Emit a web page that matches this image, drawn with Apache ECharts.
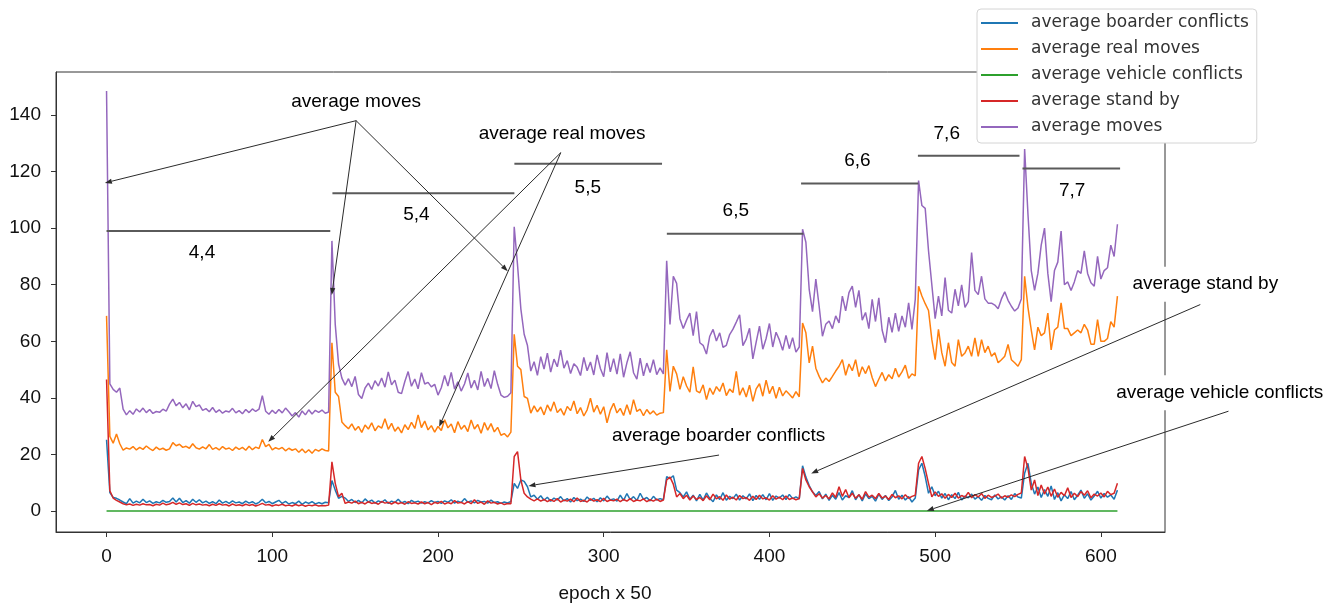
<!DOCTYPE html>
<html>
<head>
<meta charset="utf-8">
<title>average moves per epoch</title>
<script src="https://cdn.jsdelivr.net/npm/echarts@6/dist/echarts.min.js"></script>
<style>
  html, body { margin: 0; padding: 0; background: #fff; }
  #main { width: 1336px; height: 606px; }
</style>
</head>
<body>
<div id="main"></div>
<script>
// one value every 2 epochs, x = 0 .. 610
const step = 2;

const boarderConflicts = [
  // 4,4
  25.2,6.5,4.8,4.5,3.9,3.2,2.6,4.4,2.8,3.5, 2.9,4.2,3.0,3.6,2.7,3.3,2.9,3.8,3.1,3.4,
  4.6,3.2,4.5,3.0,3.7,2.8,4.2,3.1,4.0,2.9, 3.5,2.7,3.3,2.6,3.9,2.8,3.4,2.7,3.6,2.9,
  3.2,2.6,3.5,2.8,3.3,2.5,3.1,4.2,2.9,3.4, 2.6,3.2,3.8,2.7,3.4,2.5,3.0,2.6,3.5,2.4,
  3.2,2.7,3.3,2.5,3.0,2.6,3.1,2.9,
  // 5,4
  10.8,7.4,4.5,5.2,4.6,3.4,4.1,3.0,3.8,2.9, 4.3,3.2,3.9,2.8,3.6,3.1,4.0,2.7,3.5,3.0,
  4.2,2.9,3.4,2.6,3.8,3.1,3.5,2.8,3.3,2.9, 3.7,3.0,3.4,2.7,3.6,3.1,4.0,2.8,3.5,3.0,
  4.4,3.1,3.6,2.9,3.8,3.2,3.4,2.8,3.9,3.0, 3.3,2.7,3.2,2.9,3.4,
  // 5,5
  9.8,8.0,11.0,10.5,8.6,5.0,5.6,4.2,5.4,3.8, 4.9,3.5,4.6,3.9,5.1,3.6,4.4,3.2,4.8,3.7,
  4.2,3.4,5.0,3.8,4.5,3.3,4.7,3.6,5.3,3.9, 4.3,3.5,5.6,3.8,6.2,4.0,5.1,3.7,6.3,4.1,
  4.8,3.6,5.2,3.9,4.4,4.0,
  // 6,5
  12.2,11.5,12.5,7.4,6.5,5.0,6.8,4.2,5.6,3.6, 5.9,3.9,6.4,4.5,3.3,5.7,4.1,6.5,3.8,5.2,
  4.4,6.0,3.9,5.4,4.3,6.1,3.7,5.5,4.2,5.8, 4.0,6.2,3.8,5.3,4.6,5.7,4.1,5.9,4.4,5.0,
  4.3,
  // 6,6
  16.0,12.0,9.0,6.8,5.5,6.9,4.3,6.0,3.8,5.6, 4.2,6.5,3.9,5.4,4.8,7.2,4.0,5.8,3.6,6.1,
  4.4,5.2,3.5,6.0,4.1,5.5,3.7,5.0,7.3,4.2, 5.6,3.9,5.1,3.2,4.6,
  // 7,6
  14.5,16.9,12.2,6.3,8.6,5.4,7.0,4.6,6.2,4.0, 5.8,4.4,6.6,3.9,5.3,4.7,6.0,4.2,5.1,3.8,
  5.5,4.5,4.0,5.7,4.3,5.0,3.9,5.4,4.1,6.2, 5.0,4.6,
  // 7,7
  13.4,16.9,9.8,6.0,8.5,4.8,7.6,5.2,8.9,4.1, 6.5,3.6,5.8,4.4,6.9,4.0,5.6,7.4,4.5,6.1,
  3.9,5.3,7.0,4.6,6.2,4.9,5.7,4.2,7.4
];

const realMoves = [
  // 4,4
  69,26.4,24,27.2,23.8,21.5,22.3,21.9,22.8,21.6, 22.5,21.8,23.0,22.1,21.4,22.6,21.7,22.2,21.5,22.0,
  24.2,23.1,23.6,22.5,22.9,22.2,23.8,22.4,21.9,22.7, 22.0,23.5,21.8,22.4,21.6,22.8,21.9,22.3,21.4,22.6,
  21.8,22.5,21.5,22.9,21.7,22.6,22.1,25.3,22.8,23.6, 21.6,22.4,21.9,22.5,21.3,22.2,21.5,22.0,20.8,21.9,
  20.6,21.7,20.4,21.8,21.2,22.0,21.4,21.2,
  // 5,4
  59.5,42,40.5,31.5,30.2,29.1,30.8,28.6,29.9,27.8, 30.4,29.0,31.2,28.4,30.1,29.3,32.6,28.9,31.0,28.2,
  29.7,27.6,30.5,28.8,31.4,29.2,34.0,29.5,31.8,28.7, 30.2,27.9,29.9,28.5,32.3,29.4,30.8,27.7,31.6,28.9,
  30.3,28.1,32.2,29.0,30.6,27.5,31.3,28.6,30.9,28.0, 29.6,26.8,27.4,26.2,27.9,
  // 5,5
  62.5,51.2,50.0,40.5,39.8,34.6,37.2,35.1,36.8,34.0, 37.5,35.3,38.6,34.8,36.2,33.9,37.0,35.5,38.9,34.4,
  36.6,33.6,35.8,39.9,35.0,37.4,34.2,36.9,31.2,35.6, 38.1,34.7,36.3,33.8,37.6,34.1,39.4,35.2,36.0,33.7,
  35.9,34.3,35.4,33.9,34.6,34.8,
  // 6,5
  57,42.3,51.2,48.5,43,47.5,44.2,42.0,51.0,42.5, 41.8,44.6,39.4,43.5,41.2,44.0,42.3,45.3,40.8,43.1,
  41.9,49.4,41.0,43.6,40.3,44.5,38.8,43.2,45.0,40.6, 46.3,41.5,44.1,39.9,43.8,40.7,42.5,41.3,40.0,42.2,
  40.4,
  // 6,6
  66.5,63,52.4,58.3,50.5,47.6,45.3,47.0,45.8,47.6, 49.5,51.2,53.5,48.0,52.0,49.6,53.5,47.5,51.0,48.6,
  51.4,47.2,44.0,46.6,49.0,46.0,48.2,46.8,50.5,47.4, 49.2,51.6,46.9,48.5,47.8,
  // 7,6
  79.5,76,73.3,70.9,60.6,53.5,64.2,56,51.2,59.5, 52.5,51.2,60.6,54.7,55.9,58.3,54.7,61.2,54.7,60.6,
  56,58.3,54.7,56,52.4,53.5,54.7,58.9,53.5,52.4, 51.2,53.5,
  // 7,7
  83,72,64,57,65,62,63,70,57,64, 65,73.6,64.5,64.5,62,63,64,63,66,64,
  59,59,67.7,60,60,61,67,65,76
];

// flat at zero over the whole run
const vehicleEpochs = [0, 610];
const vehicleConflicts = [0, 0];

const standBy = [
  // 4,4
  46.5,7.2,4.6,3.8,3.2,2.6,2.2,2.5,2.0,2.4, 2.1,2.6,2.2,2.3,1.9,2.4,2.1,2.8,2.2,2.5,
  3.1,2.4,2.9,2.3,2.6,2.0,2.7,2.2,2.5,2.1, 2.3,1.9,2.4,2.0,2.6,2.1,2.3,1.8,2.5,2.0,
  2.2,1.9,2.4,2.0,2.3,1.8,2.2,2.7,2.1,2.3, 1.8,2.2,2.0,2.4,1.9,2.1,1.8,2.3,1.9,2.2,
  1.7,2.1,1.9,2.2,1.8,2.0,1.9,2.1,
  // 5,4
  17.4,9.8,5.1,6.3,2.7,3.2,2.8,3.5,2.6,3.1, 2.5,3.3,2.7,3.0,2.4,3.4,2.8,3.1,2.5,3.2,
  2.6,3.0,2.4,3.3,2.7,2.9,2.5,3.2,2.6,3.0, 2.3,3.1,2.7,3.4,2.5,3.0,2.6,3.7,2.8,3.1,
  2.5,3.3,2.6,4.0,2.7,3.2,2.4,3.6,2.8,3.1, 2.5,2.9,2.3,2.7,2.6,
  // 5,5
  19.3,21.0,11.0,6.3,5.0,4.2,3.6,4.3,3.5,4.1, 3.3,4.0,3.4,4.4,3.2,3.9,3.5,4.2,3.3,4.6,
  3.4,3.8,3.2,4.3,3.5,4.0,3.3,4.5,3.4,3.9, 3.6,4.2,3.3,4.1,3.5,4.4,3.4,3.9,3.6,4.3,
  3.3,4.0,3.5,4.2,3.4,3.9,
  // 6,5
  11.0,12.0,9.5,5.0,6.2,4.4,5.6,3.9,5.3,4.1, 4.8,3.7,5.4,4.0,6.0,4.3,5.1,3.8,5.7,4.2,
  4.9,3.9,5.5,4.4,4.8,3.8,5.2,4.1,5.6,4.3, 4.7,3.9,5.4,4.2,4.9,4.0,5.3,4.1,4.6,4.0,
  4.4,
  // 6,6
  15.1,11.0,8.6,6.8,5.0,6.1,4.6,5.5,4.3,6.4, 4.8,8.6,5.2,7.6,4.7,6.3,4.5,5.8,4.2,6.9,
  4.9,5.6,4.4,6.2,4.6,5.3,4.1,5.9,4.7,5.4, 4.3,5.8,4.5,5.2,5.6,
  // 7,6
  16.9,19.3,15.0,9.8,5.0,6.8,5.2,6.1,4.5,5.9, 4.8,6.3,4.6,5.5,4.9,6.6,4.7,5.8,5.0,6.2,
  4.5,5.6,4.8,5.3,6.0,4.6,5.4,4.9,5.7,5.1, 5.9,6.4,
  // 7,7
  19.3,15.1,7.4,11.0,5.5,9.2,6.0,8.5,5.2,7.8, 4.9,6.6,5.4,8.2,4.8,6.3,5.1,6.9,5.6,7.2,
  4.7,6.0,5.3,6.4,5.0,7.0,5.8,6.3,9.8
];

const moves = [
  // 4,4
  148.5,45,43,42,43.5,36,34,35.5,34.2,36.1, 35.0,36.4,34.8,35.9,34.5,35.2,34.9,36.0,35.3,37.8,
  39.6,37.2,38.4,36.5,37.9,35.8,38.8,36.9,37.5,35.6, 36.2,35.1,36.6,34.9,35.8,34.6,35.4,35.0,36.3,34.7,
  35.5,34.4,35.9,34.8,36.1,35.2,36.0,40.8,35.3,34.2, 35.6,34.5,35.9,34.7,36.4,35.1,33.6,34.8,33.2,35.4,
  34.0,35.8,34.3,35.6,34.9,35.7,34.6,35.0,
  // 5,4
  95.5,66,52,47,44.5,46.8,44.0,47.6,41.2,39.8, 43.5,45.2,43.0,46.1,44.2,47.0,43.8,49.2,44.6,46.3,
  42.0,41.5,45.8,49.3,44.1,46.7,43.2,48.9,44.9,45.5, 43.9,44.8,41.0,43.6,47.9,44.2,49.0,43.1,45.7,42.4,
  44.9,48.8,43.5,46.2,42.8,49.4,44.0,46.9,43.3,49.6, 44.8,41.0,40.2,40.6,41.8,
  // 5,5
  100.5,87,71.5,62.5,58.5,49.5,52.8,48.0,54.6,50.2, 55.8,49.1,53.7,51.0,56.9,50.5,53.2,48.6,52.1,50.8,
  47.9,54.3,49.6,52.7,48.1,55.2,50.4,47.5,56.0,49.2, 53.9,48.4,55.6,47.3,52.4,56.3,48.9,46.6,54.1,47.8,
  52.3,49.0,53.5,48.2,50.6,48.5,
  // 6,5
  88.5,66,83,80.5,68,64.5,67.5,70.0,62.0,70.5, 59.5,58.6,55.5,61.8,64.2,60.1,63.0,57.9,58.6,62.4,
  64.3,66.8,69.4,58.5,60.8,64.6,53.8,59.7,65.4,57.2, 61.0,66.3,58.0,63.2,60.5,56.8,62.1,57.4,61.3,56.2,
  58.0,
  // 6,6
  99.6,95.0,78.4,70.5,82.0,72.4,61.8,66.0,67.2,64.5, 69.0,66.5,76.0,70.8,77.2,79.5,72.0,78.0,67.5,70.2,
  64.5,74.8,67.0,75.4,64.0,59.5,68.5,63.2,70.0,63.5, 69.0,65.0,73.6,64.2,74.8,
  // 7,6
  116.8,108,107,92,80,68,76,69,82.5,71, 70,78.4,72.5,80,72,74,91.4,78,76.5,83,
  75,73.5,73.5,72.8,71.5,75,77.5,74.5,72.4,70.7, 71.8,75,
  // 7,7
  128,105,85,78,84,94,100,84,74,85, 88,99,80,81,78,81,85,84,92,84,
  80.7,79.5,90,82,85,86,94,90,101.4
];

const epochs = moves.map((v, i) => i * step);
const xTicks = [0, 100, 200, 300, 400, 500, 600];
const yTicks = [0, 20, 40, 60, 80, 100, 120, 140];

// phase bars (grid size per phase) in data units
const phases = [
  { label: '4,4', x1: 0,     x2: 135,   y: 99.0,  lx: 57.6,  ly: 91.3 },
  { label: '5,4', x1: 136.3, x2: 246.1, y: 112.3, lx: 187,   ly: 104.6 },
  { label: '5,5', x1: 246.1, x2: 335.2, y: 122.8, lx: 290.4, ly: 114.3 },
  { label: '6,5', x1: 338.1, x2: 420.5, y: 98.0,  lx: 379.7, ly: 106 },
  { label: '6,6', x1: 419.1, x2: 489.9, y: 115.8, lx: 453.1, ly: 123.8 },
  { label: '7,6', x1: 489.6, x2: 550.9, y: 125.6, lx: 507,   ly: 133.5 },
  { label: '7,7', x1: 552.7, x2: 611.6, y: 121.1, lx: 582.7, ly: 113.2 }
];

const notes = [
  { text: 'average moves',             at: [150.6, 144.6] },
  { text: 'average real moves',        at: [274.9, 133.5] },
  { text: 'average boarder conflicts', at: [369.3, 26.5] },
  { text: 'average stand by',          at: [663, 80.2], box: true },
  { text: 'average vehicle conflicts', at: [671.7, 41.8], box: true }
];

const arrows = [
  { from: [150.6, 138.0], to: [-1.0, 116.0] },
  { from: [150.6, 138.0], to: [135.9, 76.4] },
  { from: [150.6, 138.0], to: [242.1, 84.8] },
  { from: [274.1, 126.7], to: [97.6, 24.5] },
  { from: [274.1, 126.7], to: [200.7, 29.8] },
  { from: [369.6, 19.8],  to: [254.6, 8.9] },
  { from: [660.0, 73.0],  to: [425.2, 13.3] },
  { from: [677.0, 35.3],  to: [495.0, 0.1] }
];

const colors = ['#1f77b4', '#ff7f0e', '#2ca02c', '#d62728', '#9467bd'];
const font = '"Liberation Sans", Arial, sans-serif';

function pairs(xs, ys) {
  return ys.map((y, i) => [xs[i], y]);
}

function lineSeries(name, data, color) {
  return {
    name: name,
    type: 'line',
    data: data,
    symbol: 'none',
    silent: true,
    lineStyle: { width: 1.5, color: color },
    itemStyle: { color: color }
  };
}

var chart = echarts.init(document.getElementById('main'), null, { renderer: 'canvas' });

var option = {
  animation: false,
  backgroundColor: '#fff',
  grid: {
    left: 56, right: 171, top: 72, bottom: 74,
    show: true, borderColor: '#333', borderWidth: 1,
    outerBoundsMode: 'none'
  },
  legend: {
    orient: 'vertical',
    left: 977, top: 9,
    padding: [4, 8, 6, 4],
    icon: 'rect',
    itemWidth: 37, itemHeight: 2, itemGap: 6,
    backgroundColor: '#fff',
    borderColor: '#d4d4d4', borderWidth: 1, borderRadius: 4,
    selectedMode: false,
    textStyle: { fontFamily: 'DejaVu Sans', fontSize: 17, color: '#333', lineHeight: 20, padding: [0, 0, 0, 8] },
    data: ['average boarder conflicts', 'average real moves', 'average vehicle conflicts', 'average stand by', 'average moves']
  },
  xAxis: {
    type: 'value',
    min: -30.5, max: 638.7,
    name: 'epoch x 50',
    nameLocation: 'middle',
    nameGap: 52,
    nameTextStyle: { fontFamily: font, fontSize: 19, color: '#111', padding: [0, 11, 0, 0] },
    axisLine: { show: true, onZero: false, lineStyle: { color: '#333' } },
    axisTick: { show: true, length: 5, customValues: xTicks, lineStyle: { color: '#333' } },
    axisLabel: { customValues: xTicks, margin: 15, fontFamily: font, fontSize: 19, color: '#111' },
    splitLine: { show: false }
  },
  yAxis: {
    type: 'value',
    min: -7.4, max: 155.2,
    axisLine: { show: true, onZero: false, lineStyle: { color: '#333' } },
    axisTick: { show: true, length: 5, customValues: yTicks, lineStyle: { color: '#333' } },
    axisLabel: { customValues: yTicks, margin: 15, fontFamily: font, fontSize: 19, color: '#111' },
    splitLine: { show: false }
  },
  series: [
    lineSeries('average boarder conflicts', pairs(epochs, boarderConflicts), colors[0]),
    lineSeries('average real moves', pairs(epochs, realMoves), colors[1]),
    lineSeries('average vehicle conflicts', pairs(vehicleEpochs, vehicleConflicts), colors[2]),
    lineSeries('average stand by', pairs(epochs, standBy), colors[3]),
    lineSeries('average moves', pairs(epochs, moves), colors[4])
  ]
};

chart.setOption(option);

// annotations are placed through the axes after the first layout
function px(p) {
  return chart.convertToPixel({ gridIndex: 0 }, p);
}

var elements = [];

notes.forEach(function (n) {
  var c = px(n.at);
  var st = { text: n.text, font: '19px ' + font, fill: '#000', textAlign: 'center', textVerticalAlign: 'middle' };
  if (n.box) {
    // white box hides the frame behind the label, as in the source image
    st.backgroundColor = '#fff';
    st.textBackgroundColor = '#fff';
    st.padding = [8, 4];
    st.textPadding = [8, 4];
  }
  elements.push({ type: 'text', z: 100, zlevel: 0, silent: true, x: c[0], y: c[1], style: st });
});

phases.forEach(function (ph) {
  var a = px([ph.x1, ph.y]), b = px([ph.x2, ph.y]), c = px([ph.lx, ph.ly]);
  elements.push({
    type: 'line', z: 100, silent: true,
    shape: { x1: a[0], y1: a[1], x2: b[0], y2: b[1] },
    style: { stroke: '#5a5a5a', lineWidth: 2 }
  });
  elements.push({
    type: 'text', z: 100, silent: true, x: c[0], y: c[1],
    style: { text: ph.label, font: '19px ' + font, fill: '#000', textAlign: 'center', textVerticalAlign: 'middle' }
  });
});

arrows.forEach(function (ar) {
  var a = px(ar.from), b = px(ar.to);
  var dx = b[0] - a[0], dy = b[1] - a[1];
  var len = Math.sqrt(dx * dx + dy * dy);
  var ux = dx / len, uy = dy / len;
  var hl = 7, hw = 2.6;
  var bx = b[0] - ux * hl, by = b[1] - uy * hl;
  elements.push({
    type: 'line', z: 101, silent: true,
    shape: { x1: a[0], y1: a[1], x2: bx, y2: by },
    style: { stroke: '#2b2b2b', lineWidth: 1 }
  });
  elements.push({
    type: 'polygon', z: 101, silent: true,
    shape: { points: [[b[0], b[1]], [bx - uy * hw, by + ux * hw], [bx + uy * hw, by - ux * hw]] },
    style: { fill: '#2b2b2b' }
  });
});

chart.setOption({ graphic: { elements: elements } });
</script>
</body>
</html>
